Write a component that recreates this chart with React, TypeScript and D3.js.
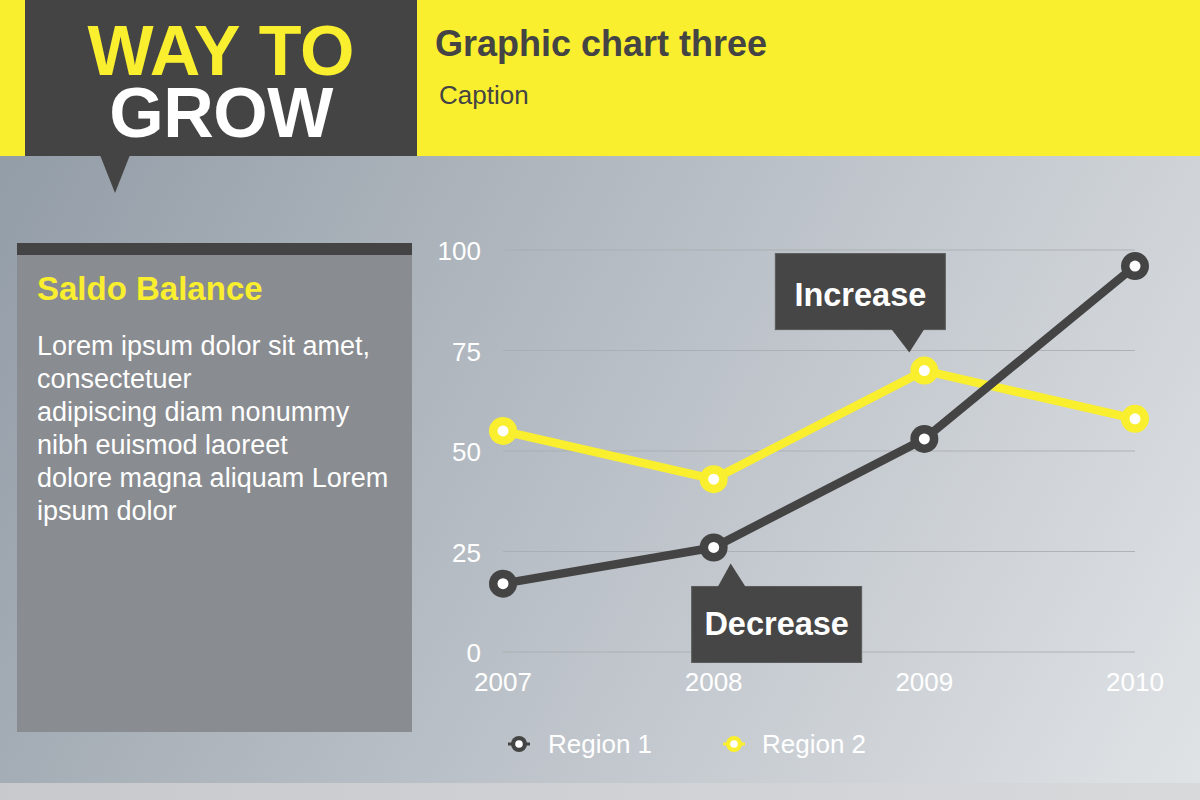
import React from 'react';
import * as d3 from 'd3';

const years = ['2007', '2008', '2009', '2010'];
const region1 = [17, 26, 53, 96];
const region2 = [55, 43, 70, 58];
const yTicks = [0, 25, 50, 75, 100];
const seriesNames = ['Region 1', 'Region 2'];
const bodyLines = [
  'Lorem ipsum dolor sit amet,',
  'consectetuer',
  'adipiscing diam nonummy',
  'nibh euismod laoreet',
  'dolore magna aliquam Lorem',
  'ipsum dolor',
];

const FONT = '"Liberation Sans", Arial, Helvetica, sans-serif';
const DARK = '#444444';
const YELLOW = '#F9EF2F';

export default function App() {
  const x = d3.scalePoint<string>().domain(years).range([503, 1135]);
  const y = d3.scaleLinear().domain([0, 100]).range([652, 250]);
  const line = d3
    .line<number>()
    .x((_, i) => x(years[i]) as number)
    .y((d) => y(d));

  const series = [
    { name: seriesNames[1], values: region2, color: YELLOW },
    { name: seriesNames[0], values: region1, color: DARK },
  ];

  const incX = x('2009') as number;
  const incY = y(region2[2]);
  const decX = x('2008') as number;
  const decY = y(region1[1]);

  const incApex = [incX - 15, incY - 18];
  const decApex = [decX + 17, decY + 16];

  return (
    <svg
      width={1200}
      height={800}
      style={{ position: 'absolute', left: 0, top: 0, display: 'block' }}
      fontFamily={FONT}
    >
      <defs>
        <linearGradient id="bg" gradientUnits="userSpaceOnUse" x1={0} y1={155} x2={1200} y2={800}>
          <stop offset="0" stopColor="#939da7" />
          <stop offset="0.5" stopColor="#bac0c7" />
          <stop offset="1" stopColor="#e0e3e6" />
        </linearGradient>
        <linearGradient id="strip" x1="0" y1="0" x2="1" y2="0">
          <stop offset="0" stopColor="#c7c9cc" />
          <stop offset="1" stopColor="#d7d9db" />
        </linearGradient>
      </defs>

      <rect x={0} y={0} width={1200} height={800} fill="url(#bg)" />
      <rect x={0} y={783} width={1200} height={17} fill="url(#strip)" />

      <rect x={0} y={0} width={1200} height={156} fill={YELLOW} />
      <rect x={25} y={0} width={392} height={156} fill={DARK} />
      <path d="M100,155 L130,155 L115,193 Z" fill={DARK} />
      <text x={221} y={75} textAnchor="middle" fontSize={70} fontWeight="bold" fill={YELLOW}>
        WAY TO
      </text>
      <text x={221} y={137} textAnchor="middle" fontSize={70} fontWeight="bold" fill="#ffffff" letterSpacing={-0.5}>
        GROW
      </text>
      <text x={435} y={56} fontSize={36} fontWeight="bold" fill={DARK}>
        Graphic chart three
      </text>
      <text x={439} y={104} fontSize={26} fill={DARK}>
        Caption
      </text>

      <rect x={17} y={243} width={395} height={489} fill="#898c90" />
      <rect x={17} y={243} width={395} height={12} fill={DARK} />
      <text x={37} y={300} fontSize={33} fontWeight="bold" fill={YELLOW}>
        Saldo Balance
      </text>
      {bodyLines.map((t, i) => (
        <text key={i} x={37} y={355 + i * 33} fontSize={27} fill="#ffffff">
          {t}
        </text>
      ))}

      {yTicks.map((t) => (
        <g key={t}>
          <line x1={x('2007')} x2={x('2010')} y1={y(t)} y2={y(t)} stroke="#a9adb1" strokeWidth={1.2} opacity={0.85} />
          <text x={481} y={y(t) + 10} textAnchor="end" fontSize={26} fill="#ffffff">
            {t}
          </text>
        </g>
      ))}
      {years.map((yr) => (
        <text key={yr} x={x(yr)} y={691} textAnchor="middle" fontSize={26} fill="#ffffff">
          {yr}
        </text>
      ))}

      {series.map((s) => (
        <g key={s.name}>
          <path d={line(s.values) || ''} fill="none" stroke={s.color} strokeWidth={8.5} strokeLinejoin="round" />
          {s.values.map((v, i) => (
            <g key={i}>
              <circle cx={x(years[i])} cy={y(v)} r={14} fill={s.color} />
              <circle cx={x(years[i])} cy={y(v)} r={5.5} fill="#ffffff" />
            </g>
          ))}
        </g>
      ))}

      <g>
        <rect x={incApex[0] - 134} y={incApex[1] - 99} width={170} height={76} fill="#464646" stroke="#5a5a5a" strokeWidth={1} />
        <path
          d={`M${incApex[0] - 18},${incApex[1] - 23.5} L${incApex[0] + 15},${incApex[1] - 23.5} L${incApex[0]},${incApex[1]} Z`}
          fill="#464646"
        />
        <text x={incApex[0] - 49} y={incApex[1] - 47} textAnchor="middle" fontSize={32.5} fontWeight="bold" fill="#ffffff">
          Increase
        </text>
      </g>

      <g>
        <rect x={decApex[0] - 39} y={decApex[1] + 23} width={170} height={76} fill="#464646" stroke="#5a5a5a" strokeWidth={1} />
        <path
          d={`M${decApex[0] - 13},${decApex[1] + 23.5} L${decApex[0] + 15},${decApex[1] + 23.5} L${decApex[0]},${decApex[1]} Z`}
          fill="#464646"
        />
        <text x={decApex[0] + 46} y={decApex[1] + 72} textAnchor="middle" fontSize={32.5} fontWeight="bold" fill="#ffffff">
          Decrease
        </text>
      </g>

      {[
        { name: seriesNames[0], color: DARK, mx: 519, tx: 548 },
        { name: seriesNames[1], color: YELLOW, mx: 734, tx: 762 },
      ].map((l) => (
        <g key={l.name}>
          <line x1={l.mx - 11} x2={l.mx + 11} y1={744} y2={744} stroke={l.color} strokeWidth={3} />
          <circle cx={l.mx} cy={744} r={8} fill={l.color} />
          <circle cx={l.mx} cy={744} r={3.8} fill="#ffffff" />
          <text x={l.tx} y={753} fontSize={26} fill="#ffffff">
            {l.name}
          </text>
        </g>
      ))}
    </svg>
  );
}
